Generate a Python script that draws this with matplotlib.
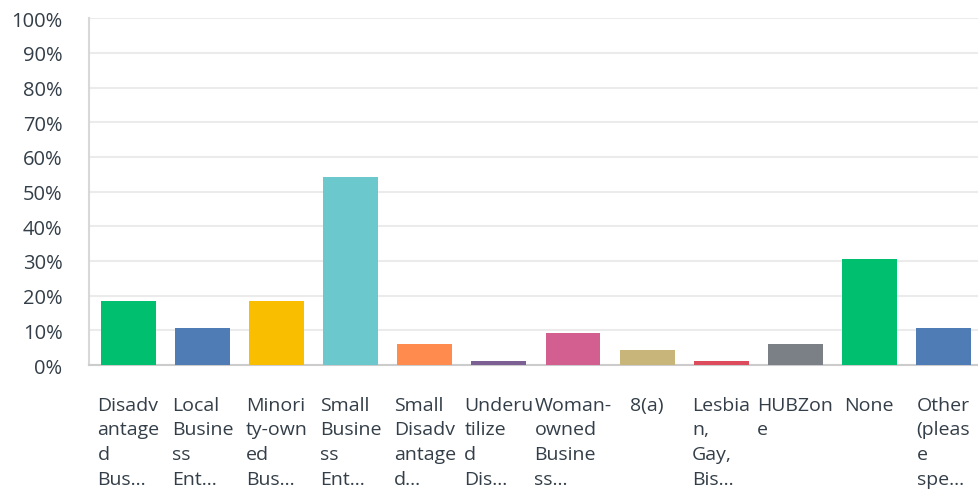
import numpy as np
import matplotlib
matplotlib.use('Agg')
from matplotlib import pyplot as plt
from matplotlib.ticker import FuncFormatter

# answer choices (labels are shown wrapped and cut like in the survey export)
labels = [
    "Disadv\nantage\nd\nBus…",
    "Local\nBusine\nss\nEnt…",
    "Minori\nty-own\ned\nBus…",
    "Small\nBusine\nss\nEnt…",
    "Small\nDisadv\nantage\nd…",
    "Underu\ntilize\nd\nDis…",
    "Woman-\nowned\nBusine\nss…",
    "8(a)",
    "Lesbia\nn,\nGay,\nBis…",
    "HUBZon\ne",
    "None",
    "Other\n(pleas\ne\nspe…",
]
# percent of respondents
values = [18.5, 10.7, 18.5, 54.3, 6.1, 1.2, 9.2, 4.3, 1.2, 6.1, 30.6, 10.7]
colors = ['#00bf6f', '#507cb6', '#f9be00', '#6bc8cd', '#ff8b4f', '#7c5f93',
          '#d25f8f', '#c7b57a', '#dc4c5c', '#7b8087', '#00bf6f', '#507cb6']
yticks = np.arange(0, 101, 10)

plt.rcParams['font.family'] = ['Open Sans', 'DejaVu Sans']
txt_col = '#333e48'

fig = plt.figure(figsize=(9.79, 5.02), dpi=100)
ax = fig.add_axes([0.0909, 0.2709, 0.9091, 0.6907])

x = np.arange(len(values))
ax.bar(x, values, width=0.742, color=colors, zorder=3)

ax.set_ylim(0, 100)
ax.set_xlim(-0.533, len(values) - 0.52)
ax.set_yticks(yticks)
ax.yaxis.set_major_formatter(FuncFormatter(lambda v, p: f"{v:.0f}%"))
ax.tick_params(axis='y', length=0, pad=19, labelsize=14.5, labelcolor=txt_col)
ax.set_xticks([])
ax.grid(axis='y', color='#ebebeb', lw=1.5, zorder=0)

for s in ['top', 'right']:
    ax.spines[s].set_visible(False)
ax.spines['left'].set_color('#d8d8d8')
ax.spines['left'].set_linewidth(1.5)
ax.spines['bottom'].set_color('#cccccc')
ax.spines['bottom'].set_linewidth(1.5)

trans = ax.get_xaxis_transform()
for i, lab in enumerate(labels):
    ax.text(i, -0.088, lab, transform=trans, ha='center', va='top',
            multialignment='left', fontsize=14, color=txt_col, linespacing=1.48)

fig.savefig('out.png', dpi=100)
